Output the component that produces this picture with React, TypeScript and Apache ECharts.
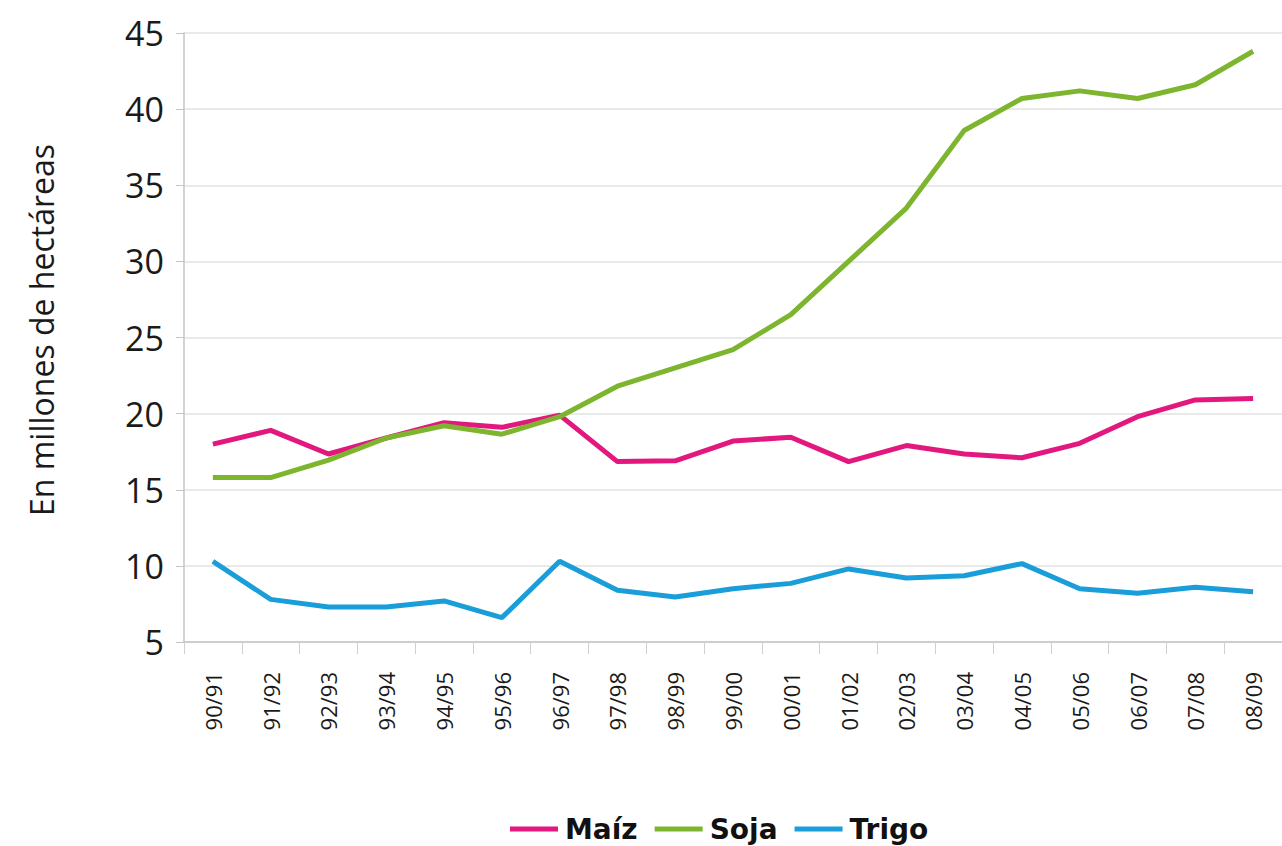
import React, { useEffect, useRef } from "react";
import * as echarts from "echarts";

const categories = ["90/91","91/92","92/93","93/94","94/95","95/96","96/97","97/98","98/99","99/00","00/01","01/02","02/03","03/04","04/05","05/06","06/07","07/08","08/09"];
const maiz = [18.0,18.9,17.35,18.4,19.4,19.1,19.9,16.85,16.9,18.2,18.45,16.85,17.9,17.35,17.1,18.05,19.8,20.9,21.0];
const soja = [15.8,15.8,16.95,18.4,19.2,18.65,19.8,21.8,23.0,24.2,26.5,30.0,33.5,38.6,40.7,41.2,40.7,41.6,43.8];
const trigo = [10.3,7.8,7.3,7.3,7.7,6.6,10.3,8.4,7.95,8.5,8.85,9.8,9.2,9.35,10.15,8.5,8.2,8.6,8.3];
const yTicks = { min: 5, max: 45, interval: 5 };
const yName = "En millones de hectáreas";

export default function App() {
  const ref = useRef<HTMLDivElement>(null);
  useEffect(() => {
    if (!ref.current) return;
    const chart = echarts.init(ref.current, null, { renderer: "svg" });
    const font = "'Open Sans', 'Noto Sans', sans-serif";
    chart.setOption({
      animation: false,
      backgroundColor: "#ffffff",
      grid: { left: 184, top: 33, width: 1110, height: 609, containLabel: false },
      xAxis: {
        type: "category",
        data: categories,
        boundaryGap: true,
        axisLine: { show: true, lineStyle: { color: "#c4c4c4", width: 1.5 } },
        axisTick: { show: true, length: 12, lineStyle: { color: "#d0d0d0" } },
        axisLabel: { rotate: 90, fontSize: 22, margin: 30, color: "#1a1a1a", fontFamily: font },
        splitLine: { show: false },
      },
      yAxis: {
        type: "value",
        min: yTicks.min,
        max: yTicks.max,
        interval: yTicks.interval,
        axisLine: { show: true, lineStyle: { color: "#c4c4c4", width: 1.5 } },
        axisTick: { show: true, length: 8, lineStyle: { color: "#c4c4c4" } },
        axisLabel: { fontSize: 34, margin: 20, color: "#1a1a1a", fontFamily: font },
        splitLine: { show: true, lineStyle: { color: "#e2e2e2", width: 1.5 } },
      },
      legend: {
        left: 510,
        top: 815,
        padding: 0,
        icon: "rect",
        itemWidth: 48,
        itemHeight: 5,
        itemGap: 17,
        textStyle: { fontSize: 28, lineHeight: 28, fontWeight: "bold", color: "#111", fontFamily: "'DejaVu Sans', sans-serif", padding: [0, 0, 0, 2] },
        data: ["Maíz", "Soja", "Trigo"],
      },
      graphic: [
        {
          type: "text",
          x: 41,
          y: 330,
          rotation: Math.PI / 2,
          style: {
            text: yName,
            fontSize: 32,
            fontFamily: font,
            fill: "#1a1a1a",
            align: "center",
            verticalAlign: "middle",
          },
        },
      ],
      series: [
        { name: "Maíz", type: "line", data: maiz, symbol: "none", lineStyle: { width: 5, color: "#e2187f" }, itemStyle: { color: "#e2187f" } },
        { name: "Soja", type: "line", data: soja, symbol: "none", lineStyle: { width: 5, color: "#7db52f" }, itemStyle: { color: "#7db52f" } },
        { name: "Trigo", type: "line", data: trigo, symbol: "none", lineStyle: { width: 5, color: "#1a9ed9" }, itemStyle: { color: "#1a9ed9" } },
      ],
    });
    return () => chart.dispose();
  }, []);
  return <div ref={ref} style={{ position: "fixed", left: 0, top: 0, width: 1282, height: 846 }} />;
}
